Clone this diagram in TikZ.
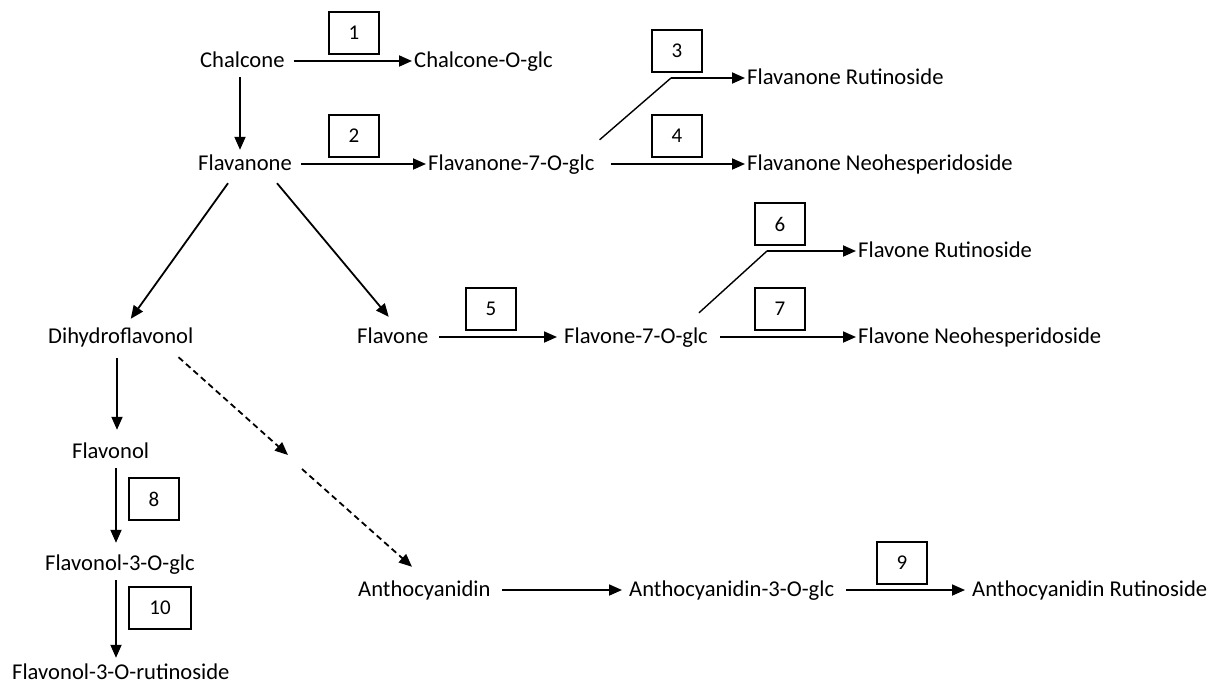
\documentclass[tikz,border=0pt]{standalone}
\usepackage{fontspec}
\setmainfont{Carlito}
\usetikzlibrary{arrows.meta,calc}
\begin{document}
\begin{tikzpicture}[x=1pt,y=-1pt,
  lbl/.style={font=\fontsize{22.6}{26}\selectfont, inner sep=2pt, text height=15pt, text depth=3pt, anchor=west},
  numbox/.style={draw, line width=1.5pt, minimum width=50pt, minimum height=42pt, inner sep=0pt, font=\fontsize{21}{26}\selectfont},
  arr/.style={line width=1.8pt, -{Triangle[length=13pt,width=11pt]}},
  bline/.style={line width=1.4pt},
  dsh/.style={line width=1.8pt, dash pattern=on 6pt off 4pt}
]
\useasboundingbox (0,0) rectangle (1210,683);

% text nodes
\node[lbl] (chal)   at (198,61)  {Chalcone};
\node[lbl] (chalg)  at (412,61)  {Chalcone-O-glc};
\node[lbl] (flav)   at (196,164) {Flavanone};
\node[lbl] (f7)     at (426,164) {Flavanone-7-O-glc};
\node[lbl] (frut)   at (745,78)  {Flavanone Rutinoside};
\node[lbl] (fneo)   at (745,164) {Flavanone Neohesperidoside};
\node[lbl] (dihy)   at (46,337)  {Dihydroflavonol};
\node[lbl] (flavone) at (355,337) {Flavone};
\node[lbl] (f7b)    at (562,337) {Flavone-7-O-glc};
\node[lbl] (frutb)  at (856,251) {Flavone Rutinoside};
\node[lbl] (fneob)  at (856,337) {Flavone Neohesperidoside};
\node[lbl] (flol)   at (70,452)  {Flavonol};
\node[lbl] (f3g)    at (43,564)  {Flavonol-3-O-glc};
\node[lbl] (f3r)    at (10,673)  {Flavonol-3-O-rutinoside};
\node[lbl] (anth)   at (356,590) {Anthocyanidin};
\node[lbl] (a3g)    at (627,590) {Anthocyanidin-3-O-glc};
\node[lbl] (arut)   at (970,590) {Anthocyanidin Rutinoside};

% numbered boxes
\node[numbox] (n1)  at (354,33)  {1};
\node[numbox] (n2)  at (354,136) {2};
\node[numbox] (n3)  at (677,51)  {3};
\node[numbox] (n4)  at (677,136) {4};
\node[numbox] (n5)  at (491,309) {5};
\node[numbox] (n6)  at (780,224) {6};
\node[numbox] (n7)  at (780,309) {7};
\node[numbox] (n8)  at (154,499) {8};
\node[numbox, minimum width=62pt] (n10) at (160,608) {10};
\node[numbox] (n9)  at (902,563) {9};

% helper coordinates
\coordinate (vA) at (240,0);
\coordinate (vB) at (117,0);
\coordinate (vC) at (116,0);
\coordinate (b3) at (671,78);
\coordinate (b6) at (767,251);
\coordinate (dm1) at (288,455);
\coordinate (dm2) at (302,469);

% connectors
\draw[arr, shorten <=7pt] (chal.east) -- (chalg.west);
\draw[arr, shorten <=5pt, shorten >=3pt] (vA |- chal.south) -- (vA |- flav.north);
\draw[arr, shorten <=7pt] (flav.east) -- (f7.west);
\draw[arr, shorten <=14pt] (f7.east) -- (fneo.west);
\draw[bline] ($(f7.north east)+(3,-13)$) -- (b3);
\draw[arr] (b3) -- (frut.west);

\draw[arr] ($(flav.south)+(-17,8)$) -- ($(dihy.north)+(10,-7)$);
\draw[arr] ($(flav.south)+(32,8)$) -- ($(flavone.north)+(-4,-9)$);

\draw[arr, shorten <=9pt, shorten >=5pt] (flavone.east) -- (f7b.west);
\draw[arr, shorten <=10pt] (f7b.east) -- (fneob.west);
\draw[bline] ($(f7b.north east)+(-11,-13)$) -- (b6);
\draw[arr] (b6) -- (frutb.west);

\draw[arr, shorten <=10pt, shorten >=11pt] (vB |- dihy.south) -- (vB |- flol.north);
\draw[arr, shorten <=5pt, shorten >=10pt] (vC |- flol.south) -- (vC |- f3g.north);
\draw[arr, shorten <=5pt, shorten >=4pt] (vC |- f3g.south) -- (vC |- f3r.north);

\draw[dsh, -{Triangle[length=13pt,width=11pt]}] ($(dihy.south east)+(-17,9)$) -- (dm1);
\draw[dsh, -{Triangle[length=13pt,width=11pt]}] (dm2) -- ($(anth.north west)+(56,-12)$);

\draw[arr, shorten <=9pt, shorten >=5pt] (anth.east) -- (a3g.west);
\draw[arr, shorten <=10pt, shorten >=5pt] (a3g.east) -- (arut.west);
\end{tikzpicture}
\end{document}
